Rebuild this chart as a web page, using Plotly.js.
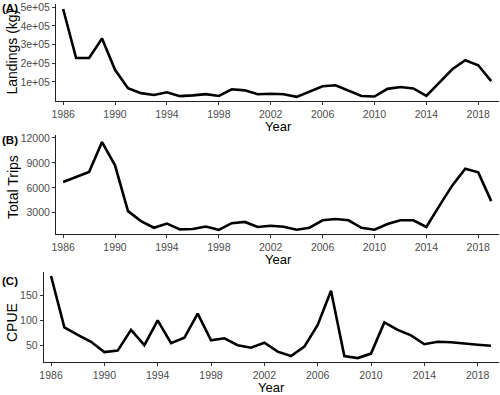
<!DOCTYPE html>
<html>
<head>
<meta charset="utf-8">
<script src="https://cdn.plot.ly/plotly-3.0.1.min.js"></script>
<style>html,body{margin:0;padding:0;background:#fff;}#chart{width:500px;height:395px;}</style>
</head>
<body>
<div id="chart"></div>
<script>
const years = [1986,1987,1988,1989,1990,1991,1992,1993,1994,1995,1996,1997,1998,1999,2000,2001,2002,2003,2004,2005,2006,2007,2008,2009,2010,2011,2012,2013,2014,2015,2016,2017,2018,2019];
const landings = [490000,228000,228000,332000,165000,66000,40000,30000,45000,24000,28000,35000,25000,61000,55000,34000,37000,34000,20000,48000,77000,82000,53000,25000,22000,63000,73000,65000,25000,95000,168000,216000,189000,104000];
const trips = [6700,7300,7900,11500,8700,3200,2000,1200,1700,1000,1050,1350,950,1750,1900,1300,1450,1330,970,1210,2100,2250,2100,1200,970,1650,2100,2100,1290,3830,6290,8300,7860,4400];
const cpue = [190,86,71,57,36,39,81,50,100,54,65,114,60,64,50,45,55,37,28,47,91,160,28,24,33,96,81,70,52,57,56,53,51,49];
const xTicks = [1986,1990,1994,1998,2002,2006,2010,2014,2018];
const landTicks = [100000,200000,300000,400000,500000];
const landTickText = ["1e+05","2e+05","3e+05","4e+05","5e+05"];
const tripTicks = [3000,6000,9000,12000];
const cpueTicks = [50,100,150];
const panelLabels = ["(A)","(B)","(C)"];
const yTitles = ["Landings (kg)","Total Trips","CPUE"];
const xTitle = "Year";

const FONT = "Liberation Sans, Arial, sans-serif";
const TICKFONT = {family:FONT,size:10.5,color:"#4d4d4d"};
const XTITLEFONT = {family:FONT,size:13,color:"#000"};
const YTITLEFONT = {family:FONT,size:14,color:"#000"};
const LABELFONT = {family:FONT,size:11.5,color:"#000"};
const lineStyle = {color:"#000", width:2.6};
const traces = [
  {x:years, y:landings, type:"scatter", mode:"lines", line:lineStyle, xaxis:"x", yaxis:"y"},
  {x:years, y:trips, type:"scatter", mode:"lines", line:lineStyle, xaxis:"x2", yaxis:"y2"},
  {x:years, y:cpue, type:"scatter", mode:"lines", line:lineStyle, xaxis:"x3", yaxis:"y3"}
];
function xa(domain, anchor){
  return {domain:domain, anchor:anchor, range:[1985.45,2019.6], tickvals:xTicks, ticks:"outside", ticklen:3, tickcolor:"#333",
    showline:true, linecolor:"#222", linewidth:1, showgrid:false, zeroline:false, tickfont:TICKFONT};
}
function ya(domain, anchor, range, tv, tt){
  const o = {domain:domain, anchor:anchor, range:range, tickvals:tv, tickformat:"d", ticks:"outside", ticklen:3, tickcolor:"#333",
    showline:true, linecolor:"#222", linewidth:1, showgrid:false, zeroline:false, tickfont:TICKFONT};
  if (tt) o.ticktext = tt;
  return o;
}
function ann(text, x, y, xanchor, yanchor, font, angle){
  return {text:text, xref:"paper", yref:"paper", x:x, y:y, xanchor:xanchor, yanchor:yanchor, showarrow:false, font:font, textangle:angle||0};
}
const layout = {
  width:500, height:395, margin:{l:0,r:0,t:0,b:0}, showlegend:false,
  paper_bgcolor:"#fff", plot_bgcolor:"#fff", font:{family:FONT},
  xaxis: xa([0.112,0.998],"y"),
  yaxis: ya([0.7443,0.9899],"x",[-2000,517000],landTicks,landTickText),
  xaxis2: xa([0.112,0.998],"y2"),
  yaxis2: ya([0.4076,0.6582],"x2",[450,12350],tripTicks,null),
  xaxis3: xa([0.0874,0.998],"y3"),
  yaxis3: ya([0.0835,0.3114],"x3",[16,198],cpueTicks,null),
  annotations: [
    ann("<b>"+panelLabels[0]+"</b>", 0, 1.0, "left", "top", LABELFONT),
    ann("<b>"+panelLabels[1]+"</b>", 0, 0.665, "left", "top", LABELFONT),
    ann("<b>"+panelLabels[2]+"</b>", 0, 0.308, "left", "top", LABELFONT),
    ann(xTitle, 0.557, 0.6785, "center", "middle", XTITLEFONT),
    ann(xTitle, 0.557, 0.3418, "center", "middle", XTITLEFONT),
    ann(xTitle, 0.543, 0.018, "center", "middle", XTITLEFONT),
    ann(yTitles[0], 0.024, 0.867, "center", "middle", YTITLEFONT, -90),
    ann(yTitles[1], 0.026, 0.5266, "center", "middle", YTITLEFONT, -90),
    ann(yTitles[2], 0.024, 0.1823, "center", "middle", YTITLEFONT, -90)
  ]
};
Plotly.newPlot("chart", traces, layout, {displayModeBar:false, staticPlot:true});
</script>
</body>
</html>
